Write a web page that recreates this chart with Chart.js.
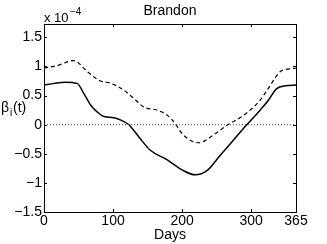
<!DOCTYPE html>
<html>
<head>
<meta charset="utf-8">
<script src="https://cdn.jsdelivr.net/npm/chart.js@4/dist/chart.umd.min.js"></script>
<style>
  html, body { margin: 0; padding: 0; background: #fff; }
  #wrap { width: 327px; height: 244px; position: relative; }
</style>
</head>
<body>
<div id="wrap"><canvas id="chart"></canvas></div>
<script>
// Brandon: beta_i(t) over the year, values in units of 1e-4

const SOLID_DAYS = [0, 15, 31, 48, 58, 68, 77, 87, 101, 113, 123, 138, 154, 178, 202, 219, 236, 255, 274, 293, 313, 325, 337, 350, 365];
const SOLID_VALS = [0.68, 0.71, 0.73, 0.71, 0.53, 0.33, 0.22, 0.14, 0.12, 0.07, 0.0, -0.22, -0.44, -0.60, -0.79, -0.86, -0.79, -0.53, -0.27, -0.01, 0.25, 0.42, 0.62, 0.67, 0.68];

const DASH_DAYS = [0, 20, 43, 63, 80, 97, 116, 133, 145, 164, 179, 188, 202, 224, 245, 265, 289, 313, 323, 342, 355, 365];
const DASH_VALS = [0.97, 1.02, 1.10, 0.91, 0.76, 0.71, 0.59, 0.42, 0.30, 0.25, 0.16, 0.05, -0.18, -0.31, -0.18, -0.01, 0.16, 0.42, 0.59, 0.91, 0.96, 0.97];

const ZERO_DAYS = [0, 365];
const ZERO_VALS = [0, 0];

const X_TICKS = [0, 100, 200, 300, 365];
const Y_TICKS = [-1.5, -1, -0.5, 0, 0.5, 1, 1.5];

const FONT = "'Liberation Sans', Arial, sans-serif";

function pts(xs, ys) {
  return xs.map((x, i) => ({ x, y: ys[i] }));
}

function fmtY(v) {
  const s = String(v);
  return v < 0 ? "\u2212" + s.slice(1) : s;
}

// MATLAB-style box with inward ticks, plus the loose text around the axes
const decor = {
  id: "decor",
  afterDraw(chart) {
    const { ctx, chartArea: a, scales } = chart;
    ctx.save();
    ctx.strokeStyle = "#000";
    ctx.lineWidth = 1;
    ctx.strokeRect(a.left + 0.5, a.top + 0.5, a.right - a.left, a.bottom - a.top);

    const len = 3;
    ctx.beginPath();
    X_TICKS.forEach((v) => {
      const px = Math.round(scales.x.getPixelForValue(v)) + 0.5;
      ctx.moveTo(px, a.bottom); ctx.lineTo(px, a.bottom - len);
      ctx.moveTo(px, a.top); ctx.lineTo(px, a.top + len);
    });
    Y_TICKS.forEach((v) => {
      const py = Math.round(scales.y.getPixelForValue(v)) + 0.5;
      ctx.moveTo(a.left, py); ctx.lineTo(a.left + len, py);
      ctx.moveTo(a.right, py); ctx.lineTo(a.right - len, py);
    });
    ctx.stroke();

    ctx.fillStyle = "#000";
    ctx.textBaseline = "alphabetic";

    // title
    ctx.font = "14px " + FONT;
    ctx.textAlign = "center";
    ctx.fillText("Brandon", (a.left + a.right) / 2, 15);

    // x label
    ctx.fillText("Days", (a.left + a.right) / 2, 239);

    // exponent
    ctx.textAlign = "left";
    ctx.font = "13px " + FONT;
    ctx.fillText("x 10", a.left, 22);
    ctx.font = "10px " + FONT;
    ctx.fillText("\u22124", a.left + 26, 15);

    // y label
    ctx.font = "14px " + FONT;
    ctx.fillText("\u03b2", 1, 112);
    ctx.font = "10px " + FONT;
    ctx.fillText("i", 10, 116);
    ctx.font = "14px " + FONT;
    ctx.fillText("(t)", 13, 112);
    ctx.restore();
  },
};

new Chart(document.getElementById("chart"), {
  type: "scatter",
  data: {
    datasets: [
      {
        data: pts(ZERO_DAYS, ZERO_VALS),
        showLine: true,
        borderColor: "#555",
        borderWidth: 1,
        borderDash: [1, 2],
        pointRadius: 0,
      },
      {
        data: pts(DASH_DAYS, DASH_VALS),
        showLine: true,
        borderColor: "#000",
        borderWidth: 1.2,
        borderDash: [4, 3],
        pointRadius: 0,
        cubicInterpolationMode: "monotone",
      },
      {
        data: pts(SOLID_DAYS, SOLID_VALS),
        showLine: true,
        borderColor: "#000",
        borderWidth: 1.5,
        pointRadius: 0,
        cubicInterpolationMode: "monotone",
      },
    ],
  },
  options: {
    responsive: true,
    maintainAspectRatio: false,
    animation: false,
    layout: { padding: { top: 24, right: 31, left: 0, bottom: 0 } },
    plugins: {
      legend: { display: false },
      tooltip: { enabled: false },
    },
    scales: {
      x: {
        type: "linear",
        min: 0,
        max: 365,
        grid: { display: false, drawTicks: false, tickLength: 0 },
        border: { display: false },
        afterBuildTicks: (s) => { s.ticks = X_TICKS.map((v) => ({ value: v })); },
        afterFit: (s) => { s.height = 32; },
        ticks: {
          color: "#000",
          font: { family: FONT, size: 14 },
          padding: 1,
          maxRotation: 0,
          autoSkip: false,
          callback: (v) => String(v),
        },
      },
      y: {
        type: "linear",
        min: -1.5,
        max: 1.73,
        grid: { display: false, drawTicks: false, tickLength: 0 },
        border: { display: false },
        afterBuildTicks: (s) => { s.ticks = Y_TICKS.map((v) => ({ value: v })); },
        afterFit: (s) => { s.width = 44; },
        ticks: {
          color: "#000",
          font: { family: FONT, size: 14 },
          padding: 2,
          autoSkip: false,
          callback: (v) => fmtY(v),
        },
      },
    },
  },
  plugins: [decor],
});
</script>
</body>
</html>
